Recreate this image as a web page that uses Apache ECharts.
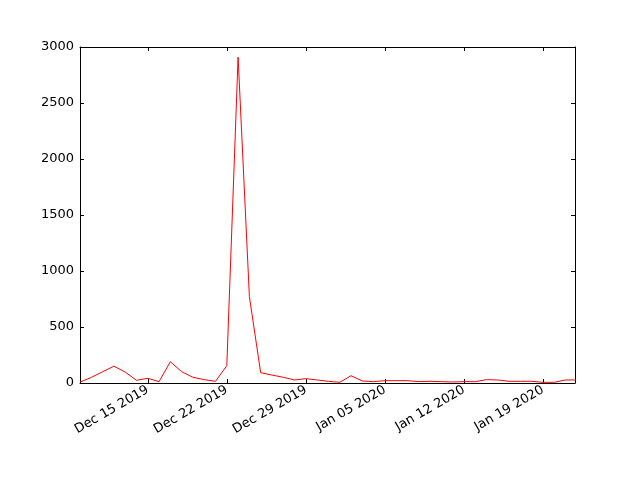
<!DOCTYPE html>
<html>
<head>
<meta charset="utf-8">
<script src="https://cdn.jsdelivr.net/npm/echarts@6/dist/echarts.min.js"></script>
<style>
  html, body { margin: 0; padding: 0; background: #fff; }
  #chart { width: 640px; height: 480px; }
</style>
</head>
<body>
<div id="chart"></div>
<script>
// daily counts, Dec 09 2019 .. Jan 22 2020
var dates = [
  '2019-12-09', '2019-12-10', '2019-12-11', '2019-12-12', '2019-12-13', '2019-12-14', '2019-12-15',
  '2019-12-16', '2019-12-17', '2019-12-18', '2019-12-19', '2019-12-20', '2019-12-21', '2019-12-22',
  '2019-12-23', '2019-12-24', '2019-12-25', '2019-12-26', '2019-12-27', '2019-12-28', '2019-12-29',
  '2019-12-30', '2019-12-31', '2020-01-01', '2020-01-02', '2020-01-03', '2020-01-04', '2020-01-05',
  '2020-01-06', '2020-01-07', '2020-01-08', '2020-01-09', '2020-01-10', '2020-01-11', '2020-01-12',
  '2020-01-13', '2020-01-14', '2020-01-15', '2020-01-16', '2020-01-17', '2020-01-18', '2020-01-19',
  '2020-01-20', '2020-01-21', '2020-01-22'
];
var counts = [
  8, 50, 100, 150, 98, 24, 42,
  12, 190, 101, 51, 30, 15, 155,
  2910, 771, 92, 71, 51, 27, 39,
  27, 15, 6, 65, 18, 12, 21,
  21, 21, 12, 15, 12, 9, 12,
  12, 30, 27, 15, 15, 15, 6,
  6, 27, 27
];
var tickDates = ['2019-12-15', '2019-12-22', '2019-12-29', '2020-01-05', '2020-01-12', '2020-01-19'];
var tickLabels = ['Dec 15 2019', 'Dec 22 2019', 'Dec 29 2019', 'Jan 05 2020', 'Jan 12 2020', 'Jan 19 2020'];
var xStart = '2019-12-09';
var xEnd = '2020-01-21T20:00:00';

function toMs(s) {
  return Date.parse(s.length === 10 ? s + 'T00:00:00Z' : s + 'Z');
}

var tickValues = tickDates.map(toMs);
var points = dates.map(function (d, i) { return [toMs(d), counts[i]]; });

var chart = echarts.init(document.getElementById('chart'));
var font = 'DejaVu Sans';
var tickStyle = { show: true, inside: true, length: 4, lineStyle: { color: '#000', width: 1 } };

var option = {
  animation: false,
  backgroundColor: '#fff',
  grid: { left: 80, right: 65, top: 47, bottom: 97 },
  xAxis: [
    {
      type: 'value',
      min: toMs(xStart),
      max: toMs(xEnd),
      position: 'bottom',
      axisLine: { show: true, onZero: false, lineStyle: { color: '#000', width: 1 } },
      axisTick: Object.assign({ customValues: tickValues }, tickStyle),
      splitLine: { show: false },
      axisLabel: {
        customValues: tickValues,
        rotate: 30,
        margin: 6,
        color: '#000',
        fontFamily: font,
        fontSize: 13,
        formatter: function (v) {
          var i = tickValues.indexOf(v);
          return i >= 0 ? tickLabels[i] : '';
        }
      }
    },
    {
      type: 'value',
      min: toMs(xStart),
      max: toMs(xEnd),
      position: 'top',
      axisLine: { show: true, onZero: false, lineStyle: { color: '#000', width: 1 } },
      axisTick: Object.assign({ customValues: tickValues }, tickStyle),
      splitLine: { show: false },
      axisLabel: { show: false }
    }
  ],
  yAxis: [
    {
      type: 'value',
      min: 0,
      max: 3000,
      interval: 500,
      position: 'left',
      axisLine: { show: true, lineStyle: { color: '#000', width: 1 } },
      axisTick: tickStyle,
      splitLine: { show: false },
      axisLabel: {
        margin: 6,
        color: '#000',
        fontFamily: font,
        fontSize: 13,
        formatter: function (v) { return String(v); }
      }
    },
    {
      type: 'value',
      min: 0,
      max: 3000,
      interval: 500,
      position: 'right',
      axisLine: { show: true, lineStyle: { color: '#000', width: 1 } },
      axisTick: tickStyle,
      splitLine: { show: false },
      axisLabel: { show: false }
    }
  ],
  series: [
    {
      type: 'line',
      data: points,
      clip: true,
      showSymbol: false,
      symbol: 'none',
      lineStyle: { color: '#ff0000', width: 1 },
      xAxisIndex: 0,
      yAxisIndex: 0
    }
  ]
};

chart.setOption(option);
</script>
</body>
</html>
